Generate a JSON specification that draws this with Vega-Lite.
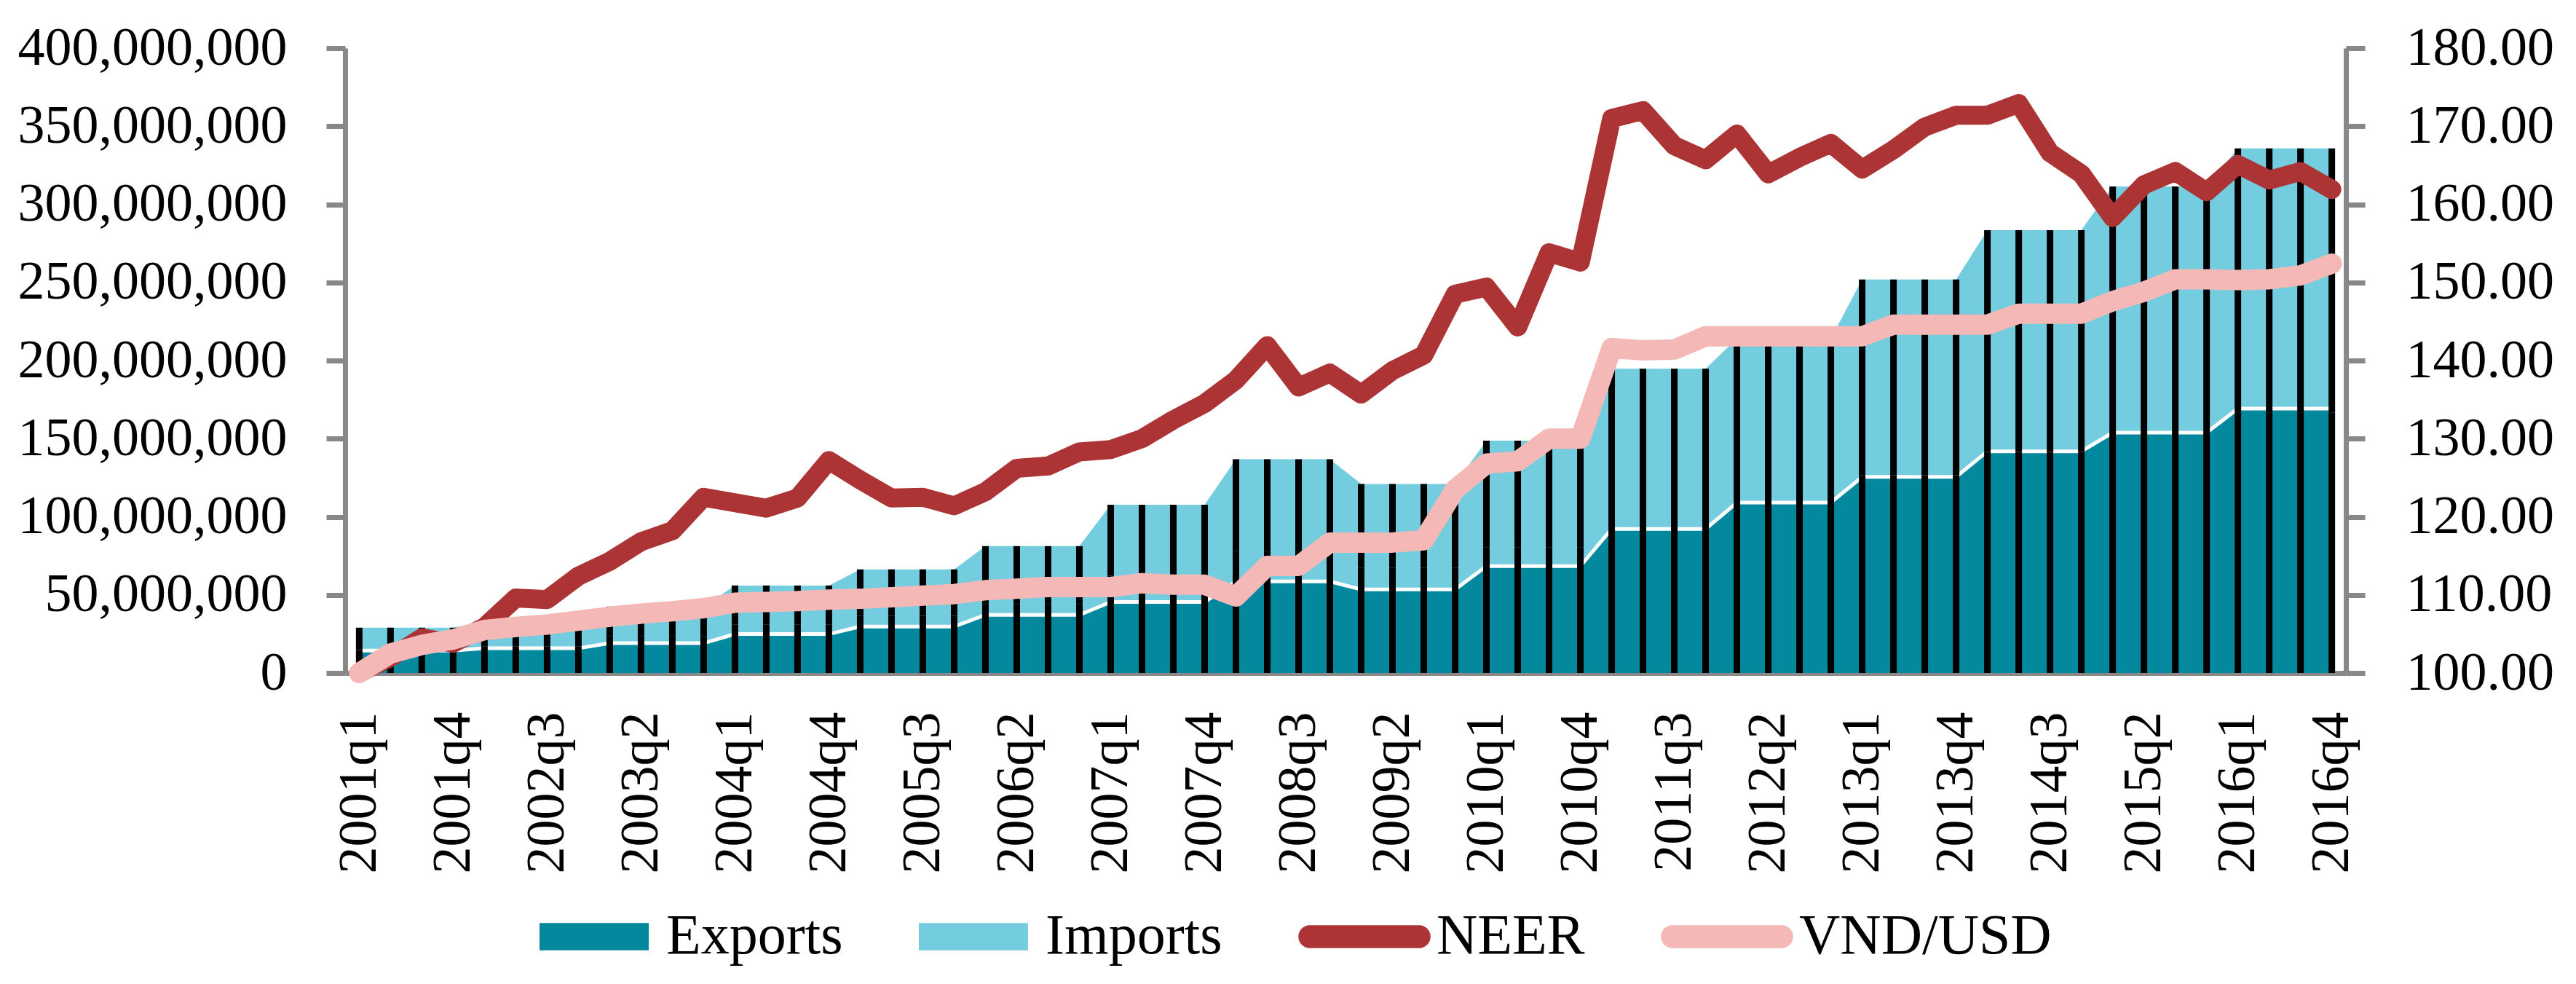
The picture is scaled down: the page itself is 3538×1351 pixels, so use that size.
{
  "$schema": "https://vega.github.io/schema/vega-lite/v6.json",
  "width": 2748,
  "height": 858,
  "autosize": "none",
  "padding": {"left": 474, "top": 66, "right": 316, "bottom": 427},
  "background": "white",
  "data": {
    "values": [
      {"q": "2001q1", "Exports": 14300000, "Imports": 14700000, "neer": 100.0, "vnd": 100.0},
      {"q": "2001q2", "Exports": 14300000, "Imports": 14700000, "neer": 102.0, "vnd": 102.5},
      {"q": "2001q3", "Exports": 14300000, "Imports": 14700000, "neer": 104.5, "vnd": 103.6},
      {"q": "2001q4", "Exports": 14300000, "Imports": 14700000, "neer": 103.8, "vnd": 104.3},
      {"q": "2002q1", "Exports": 15900000, "Imports": 17100000, "neer": 105.9, "vnd": 105.5},
      {"q": "2002q2", "Exports": 15900000, "Imports": 17100000, "neer": 109.6, "vnd": 105.9},
      {"q": "2002q3", "Exports": 15900000, "Imports": 17100000, "neer": 109.4, "vnd": 106.2},
      {"q": "2002q4", "Exports": 15900000, "Imports": 17100000, "neer": 112.4, "vnd": 106.7},
      {"q": "2003q1", "Exports": 19100000, "Imports": 23400000, "neer": 114.3, "vnd": 107.2},
      {"q": "2003q2", "Exports": 19100000, "Imports": 23400000, "neer": 116.8, "vnd": 107.6},
      {"q": "2003q3", "Exports": 19100000, "Imports": 23400000, "neer": 118.2, "vnd": 107.9},
      {"q": "2003q4", "Exports": 19100000, "Imports": 23400000, "neer": 122.5, "vnd": 108.3},
      {"q": "2004q1", "Exports": 24900000, "Imports": 31100000, "neer": 121.8, "vnd": 109.0},
      {"q": "2004q2", "Exports": 24900000, "Imports": 31100000, "neer": 121.1, "vnd": 109.1},
      {"q": "2004q3", "Exports": 24900000, "Imports": 31100000, "neer": 122.4, "vnd": 109.2},
      {"q": "2004q4", "Exports": 24900000, "Imports": 31100000, "neer": 127.2, "vnd": 109.4},
      {"q": "2005q1", "Exports": 29700000, "Imports": 36600000, "neer": 124.7, "vnd": 109.5},
      {"q": "2005q2", "Exports": 29700000, "Imports": 36600000, "neer": 122.4, "vnd": 109.7},
      {"q": "2005q3", "Exports": 29700000, "Imports": 36600000, "neer": 122.5, "vnd": 109.9},
      {"q": "2005q4", "Exports": 29700000, "Imports": 36600000, "neer": 121.4, "vnd": 110.1},
      {"q": "2006q1", "Exports": 37200000, "Imports": 44000000, "neer": 123.2, "vnd": 110.6},
      {"q": "2006q2", "Exports": 37200000, "Imports": 44000000, "neer": 126.2, "vnd": 110.8},
      {"q": "2006q3", "Exports": 37200000, "Imports": 44000000, "neer": 126.5, "vnd": 111.0},
      {"q": "2006q4", "Exports": 37200000, "Imports": 44000000, "neer": 128.3, "vnd": 111.0},
      {"q": "2007q1", "Exports": 45500000, "Imports": 62200000, "neer": 128.6, "vnd": 111.0},
      {"q": "2007q2", "Exports": 45500000, "Imports": 62200000, "neer": 130.0, "vnd": 111.5},
      {"q": "2007q3", "Exports": 45500000, "Imports": 62200000, "neer": 132.4, "vnd": 111.3},
      {"q": "2007q4", "Exports": 45500000, "Imports": 62200000, "neer": 134.5, "vnd": 111.3},
      {"q": "2008q1", "Exports": 58600000, "Imports": 78200000, "neer": 137.5, "vnd": 109.8},
      {"q": "2008q2", "Exports": 58600000, "Imports": 78200000, "neer": 141.9, "vnd": 113.7},
      {"q": "2008q3", "Exports": 58600000, "Imports": 78200000, "neer": 136.6, "vnd": 113.7},
      {"q": "2008q4", "Exports": 58600000, "Imports": 78200000, "neer": 138.4, "vnd": 116.7},
      {"q": "2009q1", "Exports": 53500000, "Imports": 67500000, "neer": 135.7, "vnd": 116.7},
      {"q": "2009q2", "Exports": 53500000, "Imports": 67500000, "neer": 138.7, "vnd": 116.7},
      {"q": "2009q3", "Exports": 53500000, "Imports": 67500000, "neer": 140.7, "vnd": 117.0},
      {"q": "2009q4", "Exports": 53500000, "Imports": 67500000, "neer": 148.5, "vnd": 123.5},
      {"q": "2010q1", "Exports": 68400000, "Imports": 80300000, "neer": 149.4, "vnd": 126.8},
      {"q": "2010q2", "Exports": 68400000, "Imports": 80300000, "neer": 144.3, "vnd": 127.1},
      {"q": "2010q3", "Exports": 68400000, "Imports": 80300000, "neer": 153.8, "vnd": 130.0},
      {"q": "2010q4", "Exports": 68400000, "Imports": 80300000, "neer": 152.6, "vnd": 130.0},
      {"q": "2011q1", "Exports": 92200000, "Imports": 102600000, "neer": 171.0, "vnd": 141.6},
      {"q": "2011q2", "Exports": 92200000, "Imports": 102600000, "neer": 172.0, "vnd": 141.3},
      {"q": "2011q3", "Exports": 92200000, "Imports": 102600000, "neer": 167.5, "vnd": 141.4},
      {"q": "2011q4", "Exports": 92200000, "Imports": 102600000, "neer": 165.7, "vnd": 143.1},
      {"q": "2012q1", "Exports": 109100000, "Imports": 105000000, "neer": 169.0, "vnd": 143.1},
      {"q": "2012q2", "Exports": 109100000, "Imports": 105000000, "neer": 163.9, "vnd": 143.1},
      {"q": "2012q3", "Exports": 109100000, "Imports": 105000000, "neer": 166.0, "vnd": 143.1},
      {"q": "2012q4", "Exports": 109100000, "Imports": 105000000, "neer": 167.8, "vnd": 143.1},
      {"q": "2013q1", "Exports": 125500000, "Imports": 126400000, "neer": 164.5, "vnd": 143.1},
      {"q": "2013q2", "Exports": 125500000, "Imports": 126400000, "neer": 167.0, "vnd": 144.6},
      {"q": "2013q3", "Exports": 125500000, "Imports": 126400000, "neer": 169.9, "vnd": 144.6},
      {"q": "2013q4", "Exports": 125500000, "Imports": 126400000, "neer": 171.4, "vnd": 144.6},
      {"q": "2014q1", "Exports": 141900000, "Imports": 141500000, "neer": 171.4, "vnd": 144.6},
      {"q": "2014q2", "Exports": 141900000, "Imports": 141500000, "neer": 172.9, "vnd": 146.0},
      {"q": "2014q3", "Exports": 141900000, "Imports": 141500000, "neer": 166.6, "vnd": 146.0},
      {"q": "2014q4", "Exports": 141900000, "Imports": 141500000, "neer": 163.9, "vnd": 146.0},
      {"q": "2015q1", "Exports": 153800000, "Imports": 157600000, "neer": 158.3, "vnd": 147.6},
      {"q": "2015q2", "Exports": 153800000, "Imports": 157600000, "neer": 162.5, "vnd": 148.8},
      {"q": "2015q3", "Exports": 153800000, "Imports": 157600000, "neer": 164.2, "vnd": 150.4},
      {"q": "2015q4", "Exports": 153800000, "Imports": 157600000, "neer": 161.6, "vnd": 150.4},
      {"q": "2016q1", "Exports": 169200000, "Imports": 166600000, "neer": 165.1, "vnd": 150.3},
      {"q": "2016q2", "Exports": 169200000, "Imports": 166600000, "neer": 163.1, "vnd": 150.4},
      {"q": "2016q3", "Exports": 169200000, "Imports": 166600000, "neer": 164.2, "vnd": 150.9},
      {"q": "2016q4", "Exports": 169200000, "Imports": 166600000, "neer": 161.9, "vnd": 152.4}
    ]
  },
  "layer": [
    {
      "layer": [
        {
          "transform": [{"fold": ["Exports", "Imports"], "as": ["series", "value"]}],
          "mark": {"type": "area"},
          "encoding": {
            "x": {
              "field": "q", "type": "ordinal", "sort": null,
              "scale": {"type": "point", "padding": 0.45},
              "axis": {
                "title": null,
                "values": ["2001q1","2001q4","2002q3","2003q2","2004q1","2004q4","2005q3","2006q2","2007q1","2007q4","2008q3","2009q2","2010q1","2010q4","2011q3","2012q2","2013q1","2013q4","2014q3","2015q2","2016q1","2016q4"],
                "labelAngle": 270,
                "labelOverlap": false,
                "ticks": false,
                "labelPadding": 53
              }
            },
            "y": {
              "field": "value", "type": "quantitative", "stack": "zero",
              "scale": {"domain": [0, 400000000], "nice": false},
              "axis": {
                "title": null,
                "orient": "left",
                "values": [0, 50000000, 100000000, 150000000, 200000000, 250000000, 300000000, 350000000, 400000000],
                "format": ",.0f",
                "tickSize": 26,
                "labelPadding": 54
              }
            },
            "color": {
              "field": "series", "type": "nominal",
              "scale": {
                "domain": ["Exports", "Imports", "NEER", "VND/USD"],
                "range": ["#03889E", "#74CDDF", "#AD3435", "#F4B8B6"]
              },
              "legend": {
                "title": null,
                "orient": "none",
                "direction": "horizontal",
                "columns": 4,
                "legendX": 267,
                "legendY": 1145,
                "symbolSize": 22500,
                "labelFont": "Liberation Serif",
                "labelFontSize": 78,
                "labelColor": "black",
                "labelLimit": 0,
                "labelOffset": 24,
                "columnPadding": 104,
                "encode": {
                  "symbols": {
                    "update": {
                      "shape": {"signal": "indexof(['NEER','VND/USD'], datum.value) >= 0 ? 'M-1,-0.21H1A0.21,0.21 0 0 1 1,0.21H-1A0.21,0.21 0 0 1 -1,-0.21Z' : 'M-1,-0.25H1V0.25H-1Z'"},
                      "fill": {"scale": "color", "field": "value"},
                      "stroke": {"value": "transparent"},
                      "strokeWidth": {"value": 0},
                      "opacity": {"value": 1},
                      "fillOpacity": {"value": 1}
                    }
                  }
                }
              }
            },
            "order": {"field": "series"}
          }
        },
        {
          "mark": {"type": "line", "color": "white", "strokeWidth": 5},
          "encoding": {
            "x": {
              "field": "q", "type": "ordinal", "sort": null,
              "scale": {"type": "point", "padding": 0.45},
              "axis": {
                "title": null,
                "values": ["2001q1","2001q4","2002q3","2003q2","2004q1","2004q4","2005q3","2006q2","2007q1","2007q4","2008q3","2009q2","2010q1","2010q4","2011q3","2012q2","2013q1","2013q4","2014q3","2015q2","2016q1","2016q4"],
                "labelAngle": 270,
                "labelOverlap": false,
                "ticks": false,
                "labelPadding": 53
              }
            },
            "y": {
              "field": "Exports", "type": "quantitative",
              "scale": {"domain": [0, 400000000], "nice": false},
              "axis": {
                "title": null,
                "orient": "left",
                "values": [0, 50000000, 100000000, 150000000, 200000000, 250000000, 300000000, 350000000, 400000000],
                "format": ",.0f",
                "tickSize": 26,
                "labelPadding": 54
              }
            }
          }
        },
        {
          "transform": [{"fold": ["Exports", "Imports"], "as": ["series", "value"]}],
          "mark": {"type": "bar", "color": "black", "width": 9},
          "encoding": {
            "x": {
              "field": "q", "type": "ordinal", "sort": null,
              "scale": {"type": "point", "padding": 0.45},
              "axis": {
                "title": null,
                "values": ["2001q1","2001q4","2002q3","2003q2","2004q1","2004q4","2005q3","2006q2","2007q1","2007q4","2008q3","2009q2","2010q1","2010q4","2011q3","2012q2","2013q1","2013q4","2014q3","2015q2","2016q1","2016q4"],
                "labelAngle": 270,
                "labelOverlap": false,
                "ticks": false,
                "labelPadding": 53
              }
            },
            "y": {
              "field": "value", "type": "quantitative", "stack": "zero",
              "scale": {"domain": [0, 400000000], "nice": false},
              "axis": {
                "title": null,
                "orient": "left",
                "values": [0, 50000000, 100000000, 150000000, 200000000, 250000000, 300000000, 350000000, 400000000],
                "format": ",.0f",
                "tickSize": 26,
                "labelPadding": 54
              }
            },
            "detail": {"field": "series"}
          }
        }
      ]
    },
    {
      "layer": [
        {
          "mark": {"type": "line", "strokeWidth": 26, "strokeCap": "round", "strokeJoin": "round"},
          "encoding": {
            "x": {
              "field": "q", "type": "ordinal", "sort": null,
              "scale": {"type": "point", "padding": 0.45},
              "axis": {
                "title": null,
                "values": ["2001q1","2001q4","2002q3","2003q2","2004q1","2004q4","2005q3","2006q2","2007q1","2007q4","2008q3","2009q2","2010q1","2010q4","2011q3","2012q2","2013q1","2013q4","2014q3","2015q2","2016q1","2016q4"],
                "labelAngle": 270,
                "labelOverlap": false,
                "ticks": false,
                "labelPadding": 53
              }
            },
            "y": {
              "field": "neer", "type": "quantitative",
              "scale": {"domain": [100, 180], "nice": false, "zero": false},
              "axis": {
                "title": null,
                "orient": "right",
                "values": [100, 110, 120, 130, 140, 150, 160, 170, 180],
                "format": ".2f",
                "tickSize": 26,
                "labelPadding": 56
              }
            },
            "color": {"datum": "NEER", "type": "nominal"}
          }
        },
        {
          "mark": {"type": "line", "strokeWidth": 28, "strokeCap": "round", "strokeJoin": "round"},
          "encoding": {
            "x": {
              "field": "q", "type": "ordinal", "sort": null,
              "scale": {"type": "point", "padding": 0.45},
              "axis": {
                "title": null,
                "values": ["2001q1","2001q4","2002q3","2003q2","2004q1","2004q4","2005q3","2006q2","2007q1","2007q4","2008q3","2009q2","2010q1","2010q4","2011q3","2012q2","2013q1","2013q4","2014q3","2015q2","2016q1","2016q4"],
                "labelAngle": 270,
                "labelOverlap": false,
                "ticks": false,
                "labelPadding": 53
              }
            },
            "y": {
              "field": "vnd", "type": "quantitative",
              "scale": {"domain": [100, 180], "nice": false, "zero": false},
              "axis": {
                "title": null,
                "orient": "right",
                "values": [100, 110, 120, 130, 140, 150, 160, 170, 180],
                "format": ".2f",
                "tickSize": 26,
                "labelPadding": 56
              }
            },
            "color": {"datum": "VND/USD", "type": "nominal"}
          }
        }
      ]
    }
  ],
  "resolve": {"scale": {"y": "independent"}},
  "config": {
    "view": {"stroke": null},
    "font": "Liberation Serif",
    "axis": {
      "labelFont": "Liberation Serif",
      "labelFontSize": 74,
      "labelColor": "black",
      "labelLimit": 0,
      "domainColor": "#888888",
      "domainWidth": 7,
      "tickColor": "#888888",
      "tickWidth": 7,
      "grid": false
    }
  }
}
